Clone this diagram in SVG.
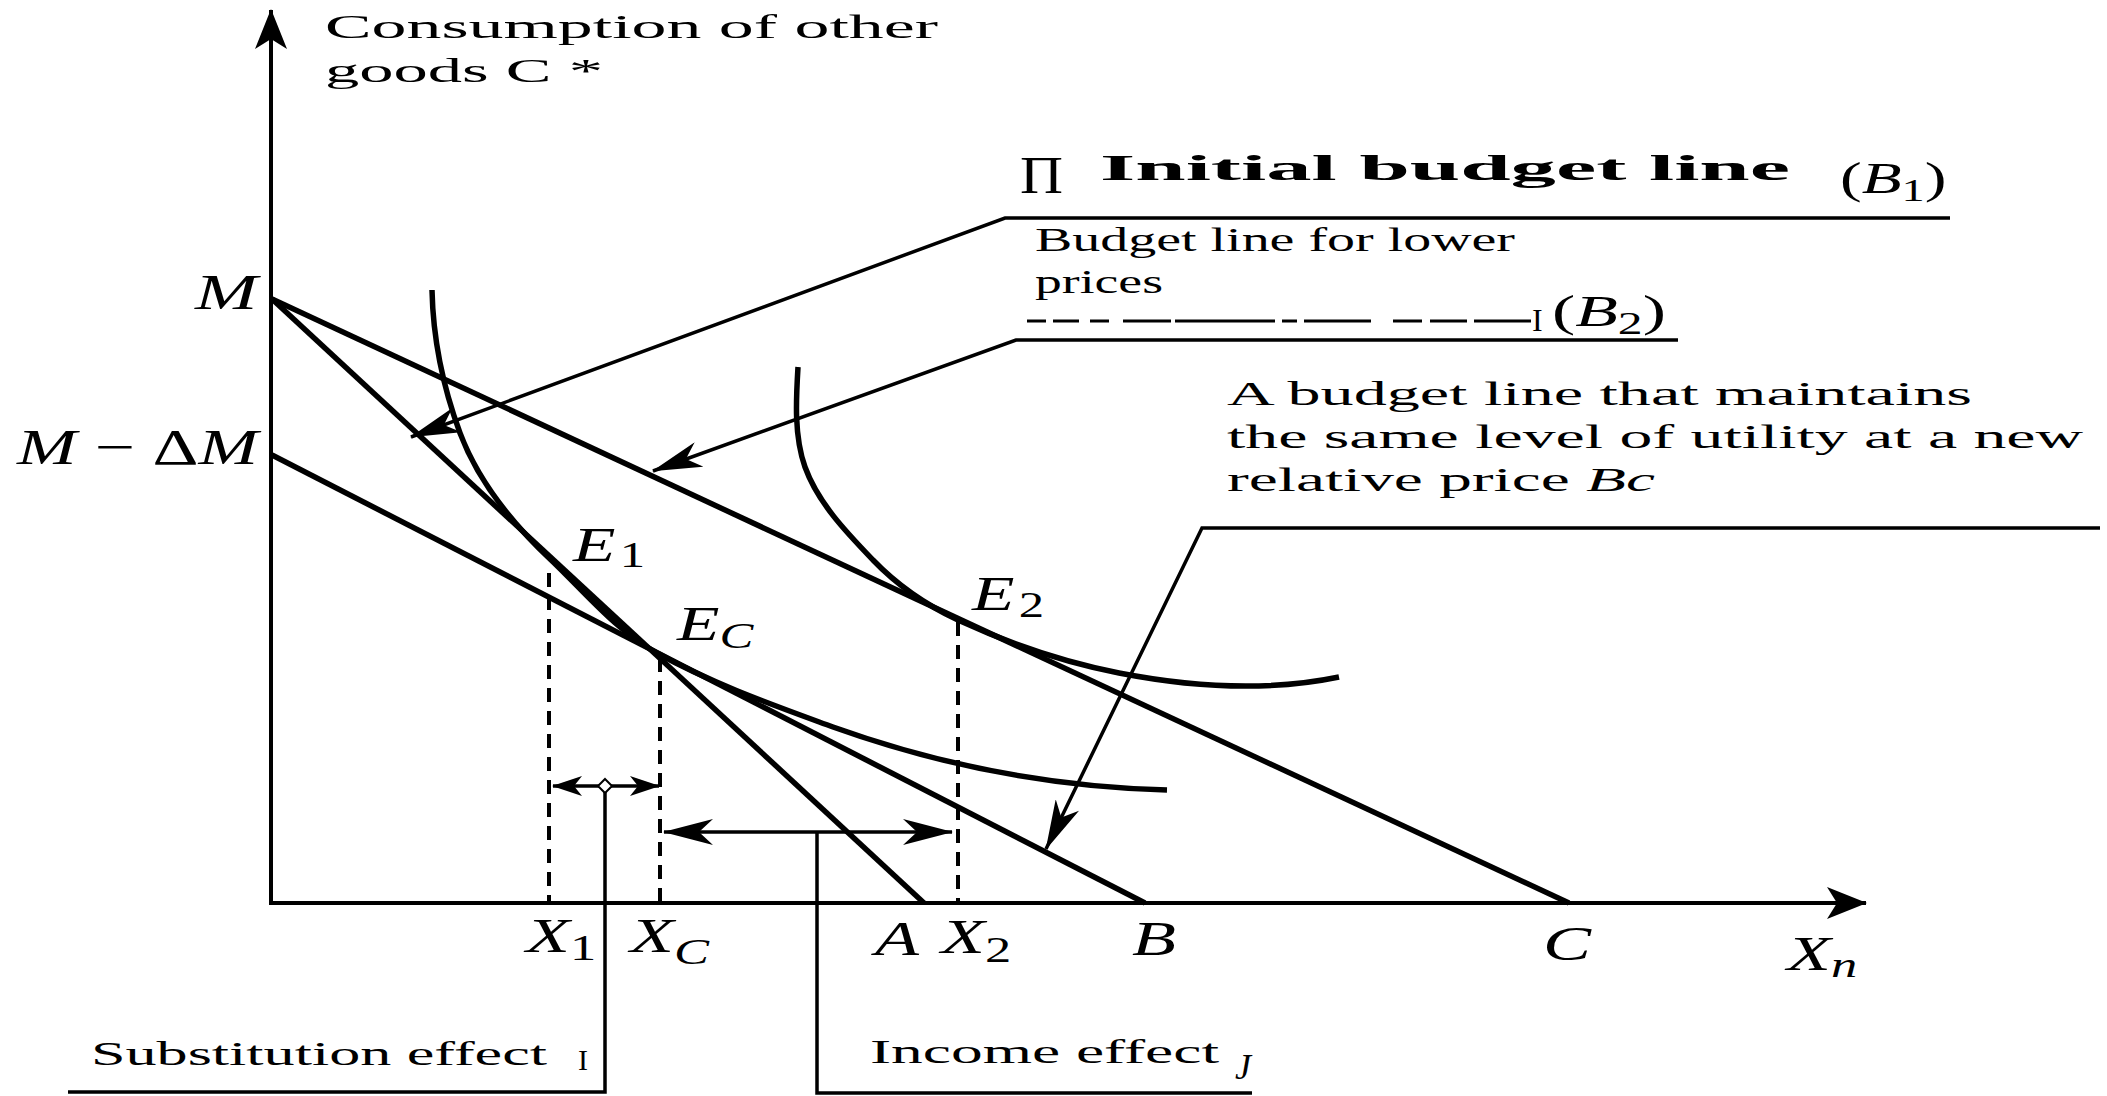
<svg xmlns="http://www.w3.org/2000/svg" width="2107" height="1096" viewBox="0 0 2107 1096">
<style>
.ax{stroke:#000;stroke-width:4;fill:none}
.bl{stroke:#000;stroke-width:5.5;fill:none}
.ic{stroke:#000;stroke-width:5.5;fill:none}
.co{stroke:#000;stroke-width:3.5;fill:none}
.dash{stroke:#000;stroke-width:4;stroke-dasharray:14 9;fill:none}
.t{font-family:"Liberation Serif","Times New Roman",serif;font-size:34px;fill:#000}
.tb{font-family:"Liberation Serif","Times New Roman",serif;font-size:35px;font-weight:bold;fill:#000}
.m{font-family:"Liberation Serif","Times New Roman",serif;font-style:italic;fill:#000}
.r{font-family:"Liberation Serif","Times New Roman",serif;font-style:normal}
.i{font-family:"Liberation Serif","Times New Roman",serif;font-style:italic}
</style>
<defs>
<marker id="ah" viewBox="0 0 50 26" refX="49" refY="13" markerWidth="50" markerHeight="26" markerUnits="userSpaceOnUse" orient="auto-start-reverse"><path d="M0,0 L50,13 L0,26 L14,13 Z" fill="#000"/></marker>
<marker id="ahs" viewBox="0 0 30 20" refX="29" refY="10" markerWidth="30" markerHeight="20" markerUnits="userSpaceOnUse" orient="auto-start-reverse"><path d="M0,0 L30,10 L0,20 L8,10 Z" fill="#000"/></marker>
<marker id="aha" viewBox="0 0 40 32" refX="39" refY="16" markerWidth="40" markerHeight="32" markerUnits="userSpaceOnUse" orient="auto-start-reverse"><path d="M0,0 L40,16 L0,32 L10,16 Z" fill="#000"/></marker>
</defs>
<rect width="2107" height="1096" fill="#fff"/>

<g id="axes">
<path class="ax" d="M271,10 V903 H1866" marker-start="url(#aha)" marker-end="url(#aha)"/>
</g>

<g id="budget-lines">
<path id="line-B1" class="bl" d="M272,299 L924,903"/>
<path id="line-B2" class="bl" d="M272,299 L1569,903"/>
<path id="line-Bc" class="bl" d="M272,455 L1145,903"/>
</g>

<g id="indifference-curves">
<path id="ic-1" class="ic" d="M432,290 C433,339 443,387 460,433 C478,481 512,523 549,558 C584,591 615,630 657,653 C713,684 773,705 833,727 C939,765 1054,787 1167,790"/>
<path id="ic-2" class="ic" d="M798,367 C796,400 794,436 805,467 C818,503 847,533 873,560 C897,585 926,605 958,620 C1010,644 1063,662 1119,673 C1191,687 1267,692 1339,677"/>
</g>

<g id="projections">
<path class="dash" d="M549,573 V903"/>
<path class="dash" d="M660,658 V903"/>
<path class="dash" d="M958,622 V903"/>
</g>

<g id="connectors">
<path class="co" d="M1950,218 H1005 L411,437" marker-end="url(#ah)"/>
<path class="co" d="M1678,340 H1016 L653,471" marker-end="url(#ah)"/>
<path class="co" d="M2100,528 H1202 L1046,849" marker-end="url(#ah)"/>
<path class="co" d="M553,786 H659" marker-start="url(#ahs)" marker-end="url(#ahs)"/>
<path class="co" d="M605,786 V1092 H68"/>
<path d="M605,779 L612,786 L605,793 L598,786 Z" fill="#fff" stroke="#000" stroke-width="2"/>
<path class="co" d="M664,832 H952" marker-start="url(#ah)" marker-end="url(#ah)"/>
<path class="co" d="M817,832 V1093 H1252"/>
</g>

<g id="title">
<text class="t" x="325" y="38" textLength="613" lengthAdjust="spacingAndGlyphs">Consumption of other</text>
<text class="t" x="325" y="82" textLength="278" lengthAdjust="spacingAndGlyphs">goods C *</text>
</g>

<g id="label-M">
<text class="m" style="font-size:50px" transform="translate(195 309) scale(1.5 1)">M</text>
</g>
<g id="label-M-dM">
<text class="m" style="font-size:50px" transform="translate(17 464) scale(1.43 1)">M<tspan class="r"> − Δ</tspan>M</text>
</g>

<g id="label-initial">
<text class="r" style="font-size:52px" x="1020" y="193" textLength="43" lengthAdjust="spacingAndGlyphs">П</text>
<text class="tb" x="1100" y="180" textLength="690" lengthAdjust="spacingAndGlyphs">Initial budget line</text>
<text class="r" style="font-size:45px" transform="translate(1840 193) scale(1.45 1)">(<tspan class="i">B</tspan><tspan style="font-size:32px" dy="8">1</tspan><tspan dy="-8">)</tspan></text>
</g>

<g id="label-lower">
<text class="t" x="1035" y="251" textLength="480" lengthAdjust="spacingAndGlyphs">Budget line for lower</text>
<text class="t" x="1035" y="293" textLength="128" lengthAdjust="spacingAndGlyphs">prices</text>
<path stroke="#000" stroke-width="3" fill="none" d="M1027,321 H1046 M1053,321 H1079 M1090,321 H1109 M1123,321 H1171 M1175,321 H1275 M1282,321 H1297 M1304,321 H1371 M1393,321 H1422 M1430,321 H1467 M1474,321 H1531"/>
<text class="r" style="font-size:32px" x="1532" y="331">I</text>
<text class="r" style="font-size:45px" transform="translate(1552 326) scale(1.55 1)">(<tspan class="i">B</tspan><tspan style="font-size:32px" dy="8">2</tspan><tspan dy="-8">)</tspan></text>
</g>

<g id="label-compensated">
<text class="t" x="1227" y="405" textLength="745" lengthAdjust="spacingAndGlyphs">A budget line that maintains</text>
<text class="t" x="1227" y="448" textLength="856" lengthAdjust="spacingAndGlyphs">the same level of utility at a new</text>
<text class="t" x="1227" y="491" textLength="428" lengthAdjust="spacingAndGlyphs">relative price <tspan class="i">Bc</tspan></text>
</g>

<g id="label-substitution">
<text class="t" x="91" y="1065" textLength="456" lengthAdjust="spacingAndGlyphs">Substitution effect</text>
<text class="r" style="font-size:30px" x="578" y="1070">I</text>
</g>
<g id="label-income">
<text class="t" x="870" y="1063" textLength="349" lengthAdjust="spacingAndGlyphs">Income effect</text>
<text class="i" style="font-size:36px" x="1235" y="1079">J</text>
</g>

<g id="points" style="font-size:48px">
<text class="m" transform="translate(573 561) scale(1.45 1)">E<tspan class="r" style="font-size:35px" dx="3" dy="6">1</tspan></text>
<text class="m" transform="translate(677 640) scale(1.45 1)">E<tspan style="font-size:35px" dy="8">C</tspan></text>
<text class="m" transform="translate(972 610) scale(1.45 1)">E<tspan class="r" style="font-size:35px" dx="3" dy="7">2</tspan></text>
</g>

<g id="axis-labels" style="font-size:48px">
<text class="m" transform="translate(526 952) scale(1.5 1)">X<tspan class="r" style="font-size:35px" dy="8">1</tspan></text>
<text class="m" transform="translate(630 952) scale(1.5 1)">X<tspan style="font-size:35px" dy="12">C</tspan></text>
<text class="m" transform="translate(875 955) scale(1.5 1)">A</text>
<text class="m" transform="translate(941 953) scale(1.5 1)">X<tspan class="r" style="font-size:35px" dy="9">2</tspan></text>
<text class="m" transform="translate(1132 955) scale(1.5 1)">B</text>
<text class="m" transform="translate(1543 960) scale(1.5 1)">C</text>
<text class="m" transform="translate(1787 970) scale(1.5 1)">X<tspan style="font-size:35px" dy="7">n</tspan></text>
</g>
</svg>
